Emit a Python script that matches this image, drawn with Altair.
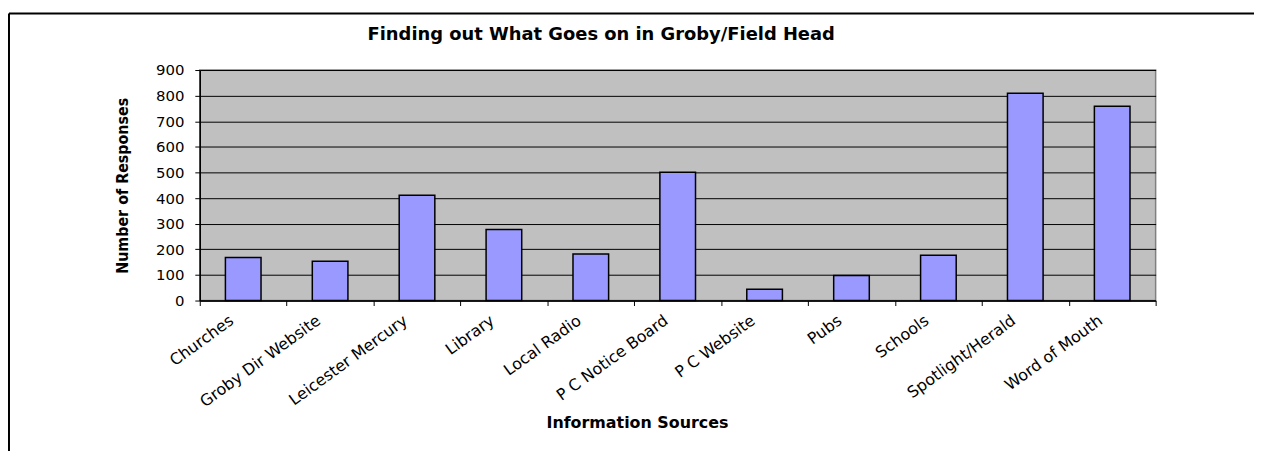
import altair as alt
import pandas as pd

categories = ["Churches", "Groby Dir Website", "Leicester Mercury", "Library",
              "Local Radio", "P C Notice Board", "P C Website", "Pubs",
              "Schools", "Spotlight/Herald", "Word of Mouth"]
responses = [168, 153, 411, 277, 182, 501, 44, 98, 177, 809, 759]
y_ticks = [0, 100, 200, 300, 400, 500, 600, 700, 800, 900]

title_text = ["Finding out What Goes on in Groby/Field Head"]
x_title = "Information Sources"
y_title = "Number of Responses"

df = pd.DataFrame({"source": categories, "responses": responses})

W, H = 962, 232

bars = alt.Chart(df).mark_bar(
    width=alt.RelativeBandSize(0.41), color="#9999FF", stroke="#000000", strokeWidth=1.5
).encode(
    x=alt.X("source:N", sort=categories,
            scale=alt.Scale(paddingInner=0, paddingOuter=0),
            axis=alt.Axis(title=x_title, labelAngle=-36, labelAlign="right",
                          labelBaseline="middle", labelPadding=13, labelOffset=-12,
                          labelFont="DejaVu Sans", labelFontSize=16, labelColor="#000",
                          tickBand="extent", tickSize=5, tickColor="#000", tickWidth=1,
                          domainColor="#000", domainWidth=1.5, grid=False,
                          titleFont="DejaVu Sans", titleFontSize=16, titleFontWeight="bold",
                          titleColor="#000", titleX=440, titleY=123,
                          titleAlign="center", titleBaseline="middle")),
    y=alt.Y("responses:Q",
            scale=alt.Scale(domain=[0, 900], nice=False),
            axis=alt.Axis(title=y_title, values=y_ticks, grid=True, gridColor="#000",
                          gridWidth=1, tickSize=5, tickColor="#000", domainColor="#000",
                          domainWidth=1.5, labelFont="DejaVu Sans", labelFontSize=15,
                          labelColor="#000", labelPadding=11,
                          titleFont="Liberation Sans Narrow, DejaVu Sans Condensed, sans-serif",
                          titleFontSize=16, titleFontWeight="bold", titleColor="#000",
                          titleAngle=-90, titleX=-78, titleY=116,
                          titleAlign="center", titleBaseline="middle")),
)

title_df = pd.DataFrame({"t": title_text})
title_layer = alt.Chart(title_df).mark_text(
    font="DejaVu Sans", fontSize=18, fontWeight="bold", color="#000",
    align="center", baseline="alphabetic"
).encode(x=alt.value(404), y=alt.value(-30), text="t:N")

frame_df = pd.DataFrame({"k": [0]})
frame_left = alt.Chart(frame_df).mark_rule(color="#000", strokeWidth=2).encode(
    x=alt.value(-192), y=alt.value(-57), y2=alt.value(400))
frame_top = alt.Chart(frame_df).mark_rule(color="#000", strokeWidth=2).encode(
    x=alt.value(-192), x2=alt.value(1200), y=alt.value(-57))

chart = alt.layer(bars, title_layer, frame_left, frame_top).properties(
    width=W, height=H,
    background="#FFFFFF",
    autosize=alt.AutoSizeParams(type="none"),
    padding={"left": 193, "top": 61, "right": 99, "bottom": 150},
).configure_view(
    fill="#C0C0C0", stroke="#808080", strokeWidth=1.5
)

chart.save("out.html", embed_options={"renderer": "svg", "actions": False})
